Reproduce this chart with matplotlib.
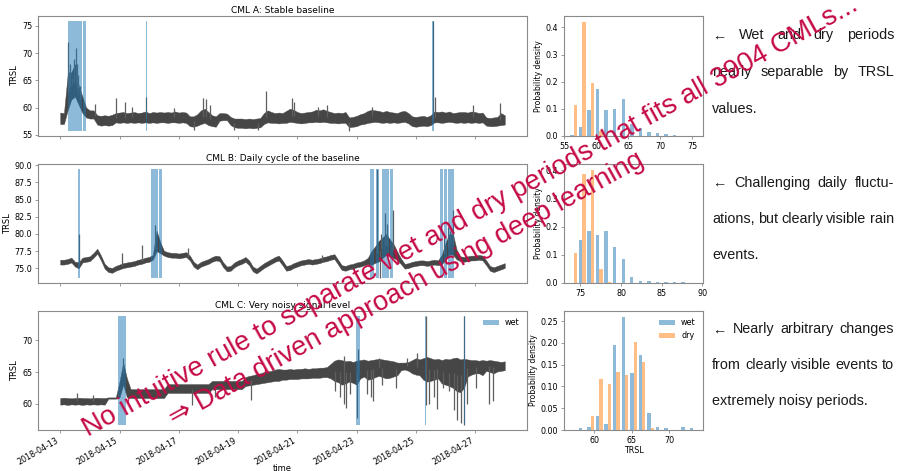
"""
Three example CMLs: TRSL time series with wet periods, and the
wet/dry TRSL distributions next to each of them.
"""

import matplotlib
matplotlib.use("Agg")
import matplotlib.dates as mdates
import matplotlib.pyplot as plt
import numpy as np

W, H = 897, 471
START = np.datetime64("2018-04-13T00:00")
BIN_HOURS = 3
N_BINS = 15

LINE_COLOR = "#464646"
SPIKE_COLOR = "#5e5e5e"
WET_COLOR = "#1f77b4"
DRY_COLOR = "#ff7f0e"
SPINE_COLOR = "#8a8a8a"
RED = "#c50a45"
TEXT_FONT = ["Liberation Sans", "DejaVu Sans"]

# ----- CML A: signal band per 3 h (lower / upper edge), spikes, wet periods -----
a_lo = [57.0, 57.0, 59.5, 61.5, 62.0, 60.5, 59.0, 58.2, 58.0, 58.0,
        56.9, 56.7, 56.8, 56.7, 56.8, 57.3, 57.2, 57.3, 57.2, 57.3,
        57.2, 57.3, 57.2, 57.3, 57.2, 57.3, 57.2, 57.3, 57.3, 57.2,
        57.3, 57.3, 57.2, 57.3, 57.2, 56.6, 56.5, 56.7, 57.0, 57.2,
        56.8, 56.6, 56.5, 57.6, 57.7, 57.7, 56.8, 56.4, 56.3, 56.3,
        56.2, 56.3, 56.2, 56.3, 56.4, 57.0, 57.3, 57.2, 57.2, 57.1,
        57.2, 57.2, 57.4, 57.3, 57.2, 57.1, 57.2, 57.3, 57.3, 57.4,
        57.3, 57.4, 57.3, 57.2, 57.2, 57.1, 57.2, 57.2, 56.4, 56.5,
        56.6, 56.9, 57.0, 57.2, 57.3, 57.4, 57.3, 57.2, 57.3, 57.2,
        57.3, 57.2, 57.3, 57.4, 57.1, 56.6, 56.5, 56.6, 56.7, 56.6,
        56.8, 57.3, 57.3, 57.2, 57.3, 57.4, 57.3, 57.2, 57.3, 57.2,
        57.3, 57.2, 57.3, 57.2, 57.3, 56.7, 56.6, 56.6, 56.7, 56.8,
        56.9]
a_hi = [59.1, 59.0, 66.0, 66.5, 68.0, 64.0, 62.0, 60.0, 59.5, 59.5,
        58.6, 58.5, 58.6, 58.5, 58.7, 59.0, 59.1, 59.2, 59.0, 59.1,
        59.2, 59.0, 59.1, 59.3, 59.0, 59.2, 59.1, 59.2, 59.1, 59.2,
        59.1, 59.3, 59.1, 59.2, 59.1, 58.4, 58.4, 58.8, 59.5, 59.8,
        59.2, 58.6, 58.4, 59.0, 59.0, 58.9, 58.3, 58.0, 58.0, 58.0,
        57.9, 58.0, 57.9, 58.0, 58.1, 59.0, 59.5, 59.2, 59.0, 59.1,
        59.0, 59.4, 59.8, 59.6, 59.2, 59.0, 59.1, 59.2, 59.3, 59.6,
        59.5, 59.7, 59.4, 59.2, 59.0, 59.1, 59.0, 59.2, 58.2, 58.3,
        58.5, 58.8, 59.0, 59.4, 59.6, 59.5, 59.4, 59.2, 59.4, 59.2,
        59.1, 59.0, 59.3, 59.4, 59.0, 58.4, 58.3, 58.4, 58.5, 58.3,
        58.6, 59.3, 59.2, 59.3, 59.1, 59.3, 59.0, 59.1, 59.2, 59.2,
        59.1, 59.3, 59.2, 59.0, 59.1, 58.2, 58.1, 58.2, 58.3, 59.0,
        58.6]
a_spike_h = [6.2, 7.2, 8.3, 9.6, 10.8, 12.5, 13.6, 14.6, 16.0, 19.0,
             28.0, 44.8, 52.2, 58.4, 69.8, 92.4, 108.7, 115.4, 118.2, 120.9,
             141.0, 160.0, 167.0, 187.4, 189.6, 209.0, 216.0, 233.6, 252.6, 301.5,
             303.7, 334.0, 356.4]
a_spike_v = [72.0, 66.5, 68.0, 65.5, 69.0, 71.0, 68.0, 66.0, 64.0, 61.1,
             60.6, 61.7, 61.1, 60.2, 62.0, 60.0, 55.9, 61.7, 61.5, 60.5,
             55.9, 55.9, 63.0, 61.7, 61.0, 60.2, 60.5, 55.8, 60.2, 75.8,
             62.0, 60.5, 60.8]
a_wet_start = [6.0, 18.7, 69.8, 301.0]
a_wet_end = [17.7, 20.6, 70.4, 302.3]

# ----- CML B -----
b_lo = [75.55, 75.55, 75.65, 75.85, 75.25, 75.00, 75.85, 75.95, 76.05, 76.55,
        77.15, 76.15, 74.95, 74.45, 74.35, 74.65, 74.85, 75.05, 75.15, 75.25,
        75.35, 75.55, 75.65, 75.85, 75.95, 76.25, 77.50, 77.20, 76.85, 76.65,
        76.55, 76.55, 76.45, 76.55, 76.65, 76.15, 75.25, 74.85, 75.25, 75.45,
        75.65, 75.95, 76.15, 76.05, 75.15, 74.55, 74.65, 75.15, 75.45, 75.65,
        75.95, 75.45, 74.55, 74.25, 74.65, 75.05, 75.35, 75.65, 75.95, 76.15,
        75.45, 74.65, 74.75, 75.05, 75.25, 75.45, 75.55, 75.65, 75.55, 75.65,
        75.75, 75.95, 76.05, 76.25, 76.35, 75.55, 74.75, 74.65, 74.85, 74.95,
        75.15, 75.25, 75.45, 75.60, 75.50, 75.80, 76.00, 76.50, 77.00, 76.80,
        76.50, 76.20, 75.60, 74.95, 75.05, 75.25, 75.35, 75.45, 75.45, 75.35,
        75.45, 75.55, 75.45, 75.60, 76.30, 77.00, 77.00, 76.30, 76.05, 75.95,
        76.05, 76.15, 76.15, 76.25, 76.15, 75.45, 74.65, 74.45, 74.65, 74.85,
        75.05]
b_hi = [76.25, 76.25, 76.35, 76.55, 75.95, 75.90, 76.55, 76.65, 76.75, 77.25,
        77.85, 76.85, 75.65, 75.15, 75.05, 75.35, 75.55, 75.75, 75.85, 75.95,
        76.05, 76.25, 76.35, 76.55, 76.65, 76.95, 80.50, 78.80, 77.55, 77.35,
        77.25, 77.25, 77.15, 77.25, 77.35, 76.85, 75.95, 75.55, 75.95, 76.15,
        76.35, 76.65, 76.85, 76.75, 75.85, 75.25, 75.35, 75.85, 76.15, 76.35,
        76.65, 76.15, 75.25, 74.95, 75.35, 75.75, 76.05, 76.35, 76.65, 76.85,
        76.15, 75.35, 75.45, 75.75, 75.95, 76.15, 76.25, 76.35, 76.25, 76.35,
        76.45, 76.65, 76.75, 76.95, 77.05, 76.25, 75.45, 75.35, 75.55, 75.65,
        75.85, 75.95, 76.15, 76.50, 77.50, 78.20, 79.00, 79.50, 80.00, 79.20,
        78.50, 77.40, 76.40, 75.65, 75.75, 75.95, 76.05, 76.15, 76.15, 76.05,
        76.15, 76.25, 76.15, 77.00, 78.70, 80.00, 80.00, 77.70, 76.75, 76.65,
        76.75, 76.85, 76.85, 76.95, 76.85, 76.15, 75.35, 75.15, 75.35, 75.55,
        75.75]
b_spike_h = [15.2, 50.0, 66.3, 76.6, 103.8, 212.0, 256.7, 259.0, 260.0, 263.1,
             265.0, 269.3, 311.0, 313.7, 316.0, 318.0]
b_spike_v = [80.0, 77.3, 78.4, 81.3, 78.0, 77.0, 89.4, 73.65, 80.0, 83.0,
             81.5, 83.5, 79.5, 81.0, 80.5, 83.5]
b_wet_start = [14.7, 73.9, 79.9, 250.6, 256.1, 260.9, 264.2, 266.9, 307.7, 311.1, 313.7]
b_wet_end = [16.0, 79.0, 82.1, 253.9, 258.0, 263.5, 266.2, 269.5, 309.7, 312.9, 319.2]

# ----- CML C -----
c_lo = [59.85, 59.90, 59.80, 59.90, 59.85, 59.90, 59.80, 59.90, 59.85, 59.90,
        59.85, 59.90, 59.85, 60.80, 60.80, 60.80, 61.00, 63.00, 61.00, 60.90,
        60.90, 60.90, 60.90, 60.90, 60.90, 60.90, 60.90, 60.90, 60.90, 61.70,
        61.70, 61.70, 61.70, 61.70, 61.70, 61.70, 61.70, 61.70, 61.70, 61.70,
        61.70, 62.30, 62.30, 62.30, 62.30, 62.30, 62.30, 62.30, 62.30, 62.30,
        62.80, 62.90, 63.00, 63.10, 63.20, 63.30, 63.40, 63.50, 63.60, 63.60,
        63.80, 63.80, 63.90, 63.90, 63.90, 64.00, 64.00, 64.00, 64.10, 64.10,
        64.10, 64.20, 64.20, 64.00, 63.60, 63.40, 63.00, 63.20, 63.50, 63.30,
        63.00, 64.00, 64.30, 63.80, 63.90, 64.20, 64.40, 64.20, 64.00, 64.10,
        64.30, 64.50, 65.30, 65.40, 65.20, 64.80, 64.60, 64.50, 63.80, 63.50,
        63.60, 63.80, 64.00, 63.20, 63.00, 62.80, 62.50, 62.00, 61.80, 62.50,
        64.30, 64.60, 64.80, 64.80, 64.50, 65.20, 65.00, 64.80, 65.10, 65.20,
        65.30]
c_hi = [60.90, 60.95, 60.90, 60.85, 60.90, 60.95, 60.90, 60.90, 60.85, 60.90,
        60.95, 60.90, 60.90, 61.00, 61.00, 61.00, 63.50, 66.50, 64.00, 62.30,
        62.30, 62.30, 62.30, 62.30, 62.30, 62.30, 62.30, 62.30, 62.30, 63.10,
        63.10, 63.10, 63.10, 63.10, 63.10, 63.10, 63.10, 63.10, 63.10, 63.10,
        63.10, 63.60, 63.60, 63.60, 63.60, 63.60, 63.60, 63.60, 63.60, 63.60,
        64.20, 64.40, 64.50, 64.70, 64.80, 65.00, 65.10, 65.20, 65.40, 65.50,
        65.40, 65.40, 65.50, 65.40, 65.50, 65.50, 65.60, 65.50, 65.60, 65.60,
        65.70, 65.70, 65.80, 66.30, 66.80, 67.00, 66.90, 66.70, 66.80, 66.60,
        66.80, 66.90, 67.00, 66.80, 66.90, 67.00, 67.10, 67.00, 66.90, 66.80,
        66.70, 66.50, 66.50, 66.50, 66.60, 66.90, 67.20, 67.00, 67.20, 67.40,
        67.20, 67.00, 67.10, 66.90, 67.10, 67.00, 67.20, 67.30, 67.00, 67.10,
        67.00, 66.90, 66.90, 66.80, 66.90, 66.80, 66.90, 66.80, 66.70, 66.60,
        66.70]
c_spike_h = [13.6, 26.3, 51.0, 107.0, 125.0, 154.8, 222.8, 226.8, 229.5, 229.5,
             231.4, 235.0, 240.4, 241.2, 248.6, 251.3, 253.2, 258.0, 260.8, 271.6,
             281.0, 289.3, 296.0, 296.0, 298.8, 302.9, 304.8, 309.6, 315.0, 319.0,
             321.7, 324.5, 327.1, 327.1, 329.8, 336.6, 347.5, 350.2]
c_spike_v = [61.7, 61.4, 67.2, 59.8, 61.0, 60.6, 62.0, 61.0, 67.5, 59.9,
             59.4, 61.5, 57.8, 68.6, 61.5, 61.0, 60.5, 67.3, 63.0, 62.5,
             67.2, 68.0, 73.8, 59.8, 59.9, 61.0, 59.2, 62.5, 62.0, 59.0,
             57.5, 57.0, 56.7, 73.8, 60.0, 62.5, 59.9, 60.5]
c_wet_start = [46.7, 239.7, 295.6, 326.6]
c_wet_end = [53.5, 242.5, 296.6, 327.6]

# ----- TRSL histograms (probability density per bin, 15 bins over the TRSL range) -----
a_wet_density = [0.005, 0.034, 0.094, 0.172, 0.096, 0.101, 0.138, 0.044, 0.030, 0.015,
                 0.010, 0.007, 0.002, 0.001, 0.001]
a_dry_density = [0.116, 0.421, 0.197, 0.020, 0.0, 0.0, 0.0, 0.0, 0.0, 0.0,
                 0.0, 0.0, 0.0, 0.0, 0.0]
b_wet_density = [0.0, 0.153, 0.185, 0.171, 0.185, 0.129, 0.085, 0.021, 0.008, 0.007,
                 0.002, 0.002, 0.002, 0.002, 0.001]
b_dry_density = [0.108, 0.385, 0.402, 0.050, 0.005, 0.0, 0.0, 0.0, 0.0, 0.0,
                 0.0, 0.0, 0.0, 0.0, 0.0]
c_wet_density = [0.0, 0.004, 0.007, 0.033, 0.014, 0.195, 0.260, 0.130, 0.172, 0.040,
                 0.008, 0.004, 0.0, 0.007, 0.005]
c_dry_density = [0.0, 0.0, 0.032, 0.118, 0.106, 0.134, 0.127, 0.202, 0.155, 0.005,
                 0.0, 0.0, 0.0, 0.0, 0.0]

hist_ticks = [[55, 60, 65, 70, 75], [75, 80, 85, 90], [60, 65, 70]]
titles = ["CML A: Stable baseline", "CML B: Daily cycle of the baseline",
          "CML C: Very noisy signal level"]

comments = [
    [["\u2190", "Wet", "and", "dry", "periods"], ["nearly", "separable", "by", "TRSL"], ["values."]],
    [["\u2190", "Challenging", "daily", "fluctu-"], ["ations,", "but", "clearly", "visible", "rain"],
     ["events."]],
    [["\u2190", "Nearly", "arbitrary", "changes"], ["from", "clearly", "visible", "events", "to"],
     ["extremely", "noisy", "periods."]],
]
headline = "No intuitive rule to separate wet and dry periods that fits all 3904 CMLs..."
conclusion = "\u21d2 Data driven approach using deep learning"

T0 = mdates.date2num(START)


def to_num(hours):
    return T0 + np.asarray(hours, dtype=float) / 24.0


def px_box(left, top, right, bottom):
    return [left / W, 1 - bottom / H, (right - left) / W, (bottom - top) / H]


def style_axes(ax):
    for sp in ax.spines.values():
        sp.set_color(SPINE_COLOR)
        sp.set_linewidth(0.8)
    ax.tick_params(labelsize=5.8, length=2.5, width=0.6, color=SPINE_COLOR, pad=1.5)


def draw_series(ax, lo, hi, spike_h, spike_v, wet_start, wet_end, wet_label=None):
    lo, hi = np.asarray(lo), np.asarray(hi)
    hours = np.arange(len(lo)) * BIN_HOURS
    ax.fill_between(to_num(hours), lo, hi, color=LINE_COLOR, lw=0.3, zorder=2)
    mid = np.interp(spike_h, hours, (lo + hi) / 2)
    ax.vlines(to_num(spike_h), mid, spike_v, color=SPIKE_COLOR, lw=0.9, zorder=2)

    ymin = min(lo.min(), min(spike_v))
    ymax = max(hi.max(), max(spike_v))
    for k, (s, e) in enumerate(zip(wet_start, wet_end)):
        ax.fill_between(to_num([s, e]), ymin, ymax, color=WET_COLOR, alpha=0.5, lw=0,
                        zorder=3, label=wet_label if k == 0 else None)
    return ymin, ymax


def draw_hist(ax, wet, dry, vmin, vmax, ticks):
    edges = np.linspace(vmin, vmax, N_BINS + 1)
    centers = (edges[:-1] + edges[1:]) / 2
    ax.hist([centers, centers], bins=edges, weights=[wet, dry],
            color=[WET_COLOR, DRY_COLOR], alpha=0.5, label=["wet", "dry"])
    ax.set_xticks(ticks)
    ax.set_ylabel("Probability density", fontsize=5.5, labelpad=2)


def justified(fig, words, x0, x1, y, size=10.4):
    renderer = fig.canvas.get_renderer()
    texts = [fig.text(x0 / W, 1 - y / H, w, fontsize=size, family=TEXT_FONT,
                      color="#1a1a1a", va="baseline") for w in words]
    if len(words) == 1:
        return
    widths = [t.get_window_extent(renderer).width for t in texts]
    gap = (x1 - x0 - sum(widths)) / (len(words) - 1)
    x = x0
    for t, w in zip(texts, widths):
        t.set_x(x / W)
        x += w + gap


def main():
    fig = plt.figure(figsize=(W / 100, H / 100), dpi=100)

    series = [
        (a_lo, a_hi, a_spike_h, a_spike_v, a_wet_start, a_wet_end),
        (b_lo, b_hi, b_spike_h, b_spike_v, b_wet_start, b_wet_end),
        (c_lo, c_hi, c_spike_h, c_spike_v, c_wet_start, c_wet_end),
    ]
    densities = [(a_wet_density, a_dry_density), (b_wet_density, b_dry_density),
                 (c_wet_density, c_dry_density)]
    rows = [(16, 136), (164, 283), (311, 430)]
    text_baselines = [(39.3, 76.0, 112.7), (186.7, 222.7, 259.0), (333.3, 369.3, 405.3)]

    for r, (top, bottom) in enumerate(rows):
        ax = fig.add_axes(px_box(38, top, 527, bottom))
        last = r == 2
        vmin, vmax = draw_series(ax, *series[r], wet_label="wet" if last else None)
        ax.set_title(titles[r], fontsize=6.5, pad=2.5)
        ax.set_ylabel("TRSL", fontsize=6, labelpad=2)
        ax.xaxis.set_major_locator(mdates.DayLocator(bymonthday=range(1, 32, 2)))
        ax.xaxis.set_major_formatter(mdates.DateFormatter("%Y-%m-%d"))
        style_axes(ax)
        if last:
            for lbl in ax.get_xticklabels():
                lbl.set_rotation(30)
                lbl.set_ha("right")
            ax.set_xlabel("time", fontsize=6, labelpad=-2)
            ax.legend(loc="upper right", fontsize=5.8, frameon=False)
        else:
            ax.set_xticklabels([])

        hax = fig.add_axes(px_box(564, top, 703, bottom))
        draw_hist(hax, *densities[r], vmin, vmax, hist_ticks[r])
        style_axes(hax)
        if last:
            hax.set_xlabel("TRSL", fontsize=5.8, labelpad=1)
            hax.legend(loc="upper right", fontsize=5.8, frameon=False)

        for words, y in zip(comments[r], text_baselines[r]):
            if words is comments[r][-1]:
                fig.text(712 / W, 1 - y / H, " ".join(words), fontsize=10.4,
                         family=TEXT_FONT, color="#1a1a1a", va="baseline")
            else:
                justified(fig, words, 712, 894, y)

    fig.text(88 / W, 1 - 437 / H, headline, rotation=29, rotation_mode="anchor",
             ha="left", va="baseline", fontsize=19.7, color=RED, family=TEXT_FONT, zorder=10)
    fig.text(174 / W, 1 - 426 / H, conclusion, rotation=29, rotation_mode="anchor",
             ha="left", va="baseline", fontsize=19.7, color=RED, family=TEXT_FONT, zorder=10)

    fig.savefig("out.png", dpi=100)
    plt.close(fig)


if __name__ == "__main__":
    main()
